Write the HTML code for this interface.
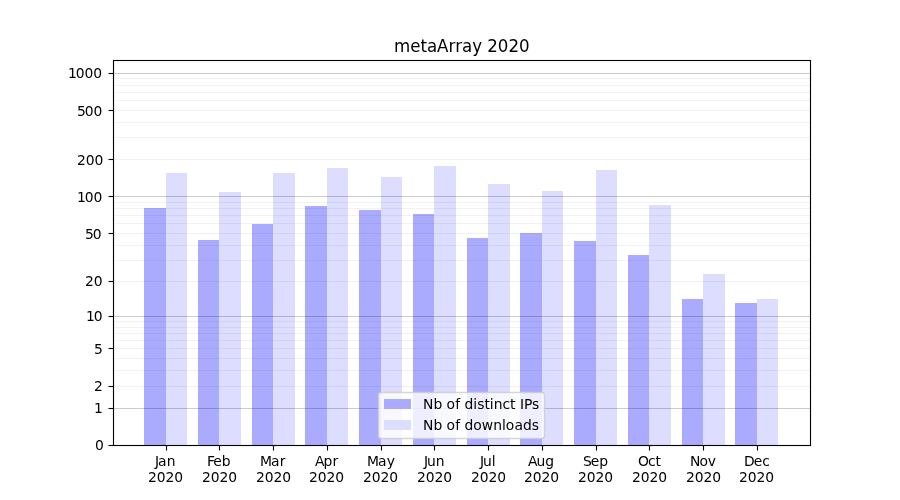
<!DOCTYPE html>
<html lang="en">
<head>
<meta charset="utf-8">
<title>metaArray 2020</title>
<style>
html,body{margin:0;padding:0;background:#fff;}
body{width:900px;height:500px;overflow:hidden;}
svg{display:block;}
text{font-family:"DejaVu Sans","Liberation Sans",sans-serif;fill:#000;white-space:pre;}
.t{font-size:13.8889px;}
.h{font-size:16.6667px;}
</style>
</head>
<body>
<svg width="900" height="500" viewBox="0 0 900 500">
<rect x="0" y="0" width="900" height="500" fill="#ffffff"/>
<g shape-rendering="crispEdges">
<rect x="144" y="208" width="22" height="237" fill="#aaaaff"/>
<rect x="166" y="173" width="21" height="272" fill="#ddddff"/>
<rect x="198" y="240" width="21" height="205" fill="#aaaaff"/>
<rect x="219" y="192" width="22" height="253" fill="#ddddff"/>
<rect x="252" y="224" width="21" height="221" fill="#aaaaff"/>
<rect x="273" y="173" width="22" height="272" fill="#ddddff"/>
<rect x="305" y="206" width="22" height="239" fill="#aaaaff"/>
<rect x="327" y="168" width="21" height="277" fill="#ddddff"/>
<rect x="359" y="210" width="22" height="235" fill="#aaaaff"/>
<rect x="381" y="177" width="21" height="268" fill="#ddddff"/>
<rect x="413" y="214" width="21" height="231" fill="#aaaaff"/>
<rect x="434" y="166" width="22" height="279" fill="#ddddff"/>
<rect x="467" y="238" width="21" height="207" fill="#aaaaff"/>
<rect x="488" y="184" width="22" height="261" fill="#ddddff"/>
<rect x="520" y="233" width="22" height="212" fill="#aaaaff"/>
<rect x="542" y="191" width="21" height="254" fill="#ddddff"/>
<rect x="574" y="241" width="22" height="204" fill="#aaaaff"/>
<rect x="596" y="170" width="21" height="275" fill="#ddddff"/>
<rect x="628" y="255" width="21" height="190" fill="#aaaaff"/>
<rect x="649" y="205" width="22" height="240" fill="#ddddff"/>
<rect x="682" y="299" width="21" height="146" fill="#aaaaff"/>
<rect x="703" y="274" width="22" height="171" fill="#ddddff"/>
<rect x="735" y="303" width="22" height="142" fill="#aaaaff"/>
<rect x="757" y="299" width="21" height="146" fill="#ddddff"/>
</g>
<clipPath id="ax"><rect x="112.5" y="60.0" width="697.5" height="385.0"/></clipPath>
<g clip-path="url(#ax)" stroke="#000" stroke-width="1.1111" fill="none">
<line x1="112" y1="408.5" x2="811" y2="408.5" stroke-opacity="0.2"/>
<line x1="112" y1="386.5" x2="811" y2="386.5" stroke-opacity="0.05"/>
<line x1="112" y1="370.5" x2="811" y2="370.5" stroke-opacity="0.05"/>
<line x1="112" y1="358.5" x2="811" y2="358.5" stroke-opacity="0.05"/>
<line x1="112" y1="348.5" x2="811" y2="348.5" stroke-opacity="0.05"/>
<line x1="112" y1="340.5" x2="811" y2="340.5" stroke-opacity="0.05"/>
<line x1="112" y1="333.5" x2="811" y2="333.5" stroke-opacity="0.05"/>
<line x1="112" y1="327.5" x2="811" y2="327.5" stroke-opacity="0.05"/>
<line x1="112" y1="321.5" x2="811" y2="321.5" stroke-opacity="0.05"/>
<line x1="112" y1="316.5" x2="811" y2="316.5" stroke-opacity="0.2"/>
<line x1="112" y1="281.5" x2="811" y2="281.5" stroke-opacity="0.05"/>
<line x1="112" y1="260.5" x2="811" y2="260.5" stroke-opacity="0.05"/>
<line x1="112" y1="245.5" x2="811" y2="245.5" stroke-opacity="0.05"/>
<line x1="112" y1="233.5" x2="811" y2="233.5" stroke-opacity="0.05"/>
<line x1="112" y1="223.5" x2="811" y2="223.5" stroke-opacity="0.05"/>
<line x1="112" y1="215.5" x2="811" y2="215.5" stroke-opacity="0.05"/>
<line x1="112" y1="208.5" x2="811" y2="208.5" stroke-opacity="0.05"/>
<line x1="112" y1="202.5" x2="811" y2="202.5" stroke-opacity="0.05"/>
<line x1="112" y1="196.5" x2="811" y2="196.5" stroke-opacity="0.2"/>
<line x1="112" y1="159.5" x2="811" y2="159.5" stroke-opacity="0.05"/>
<line x1="112" y1="137.5" x2="811" y2="137.5" stroke-opacity="0.05"/>
<line x1="112" y1="122.5" x2="811" y2="122.5" stroke-opacity="0.05"/>
<line x1="112" y1="110.5" x2="811" y2="110.5" stroke-opacity="0.05"/>
<line x1="112" y1="100.5" x2="811" y2="100.5" stroke-opacity="0.05"/>
<line x1="112" y1="92.5" x2="811" y2="92.5" stroke-opacity="0.05"/>
<line x1="112" y1="85.5" x2="811" y2="85.5" stroke-opacity="0.05"/>
<line x1="112" y1="78.5" x2="811" y2="78.5" stroke-opacity="0.05"/>
<line x1="112" y1="73.5" x2="811" y2="73.5" stroke-opacity="0.2"/>
</g>
<g stroke="#000" stroke-width="1.1111" fill="none">
<line x1="108.5" y1="445.5" x2="113.5" y2="445.5"/>
<line x1="108.5" y1="408.5" x2="113.5" y2="408.5"/>
<line x1="108.5" y1="386.5" x2="113.5" y2="386.5"/>
<line x1="108.5" y1="348.5" x2="113.5" y2="348.5"/>
<line x1="108.5" y1="316.5" x2="113.5" y2="316.5"/>
<line x1="108.5" y1="281.5" x2="113.5" y2="281.5"/>
<line x1="108.5" y1="233.5" x2="113.5" y2="233.5"/>
<line x1="108.5" y1="196.5" x2="113.5" y2="196.5"/>
<line x1="108.5" y1="159.5" x2="113.5" y2="159.5"/>
<line x1="108.5" y1="110.5" x2="113.5" y2="110.5"/>
<line x1="108.5" y1="73.5" x2="113.5" y2="73.5"/>
<line x1="166.5" y1="445.5" x2="166.5" y2="450.5"/>
<line x1="219.5" y1="445.5" x2="219.5" y2="450.5"/>
<line x1="273.5" y1="445.5" x2="273.5" y2="450.5"/>
<line x1="327.5" y1="445.5" x2="327.5" y2="450.5"/>
<line x1="381.5" y1="445.5" x2="381.5" y2="450.5"/>
<line x1="434.5" y1="445.5" x2="434.5" y2="450.5"/>
<line x1="488.5" y1="445.5" x2="488.5" y2="450.5"/>
<line x1="542.5" y1="445.5" x2="542.5" y2="450.5"/>
<line x1="596.5" y1="445.5" x2="596.5" y2="450.5"/>
<line x1="649.5" y1="445.5" x2="649.5" y2="450.5"/>
<line x1="703.5" y1="445.5" x2="703.5" y2="450.5"/>
<line x1="757.5" y1="445.5" x2="757.5" y2="450.5"/>
<rect x="113.5" y="60.5" width="697" height="385" stroke-linejoin="miter"/>
</g>
<text class="t" x="95.03" y="450">0</text>
<text class="t" x="93.91" y="413">1</text>
<text class="t" x="94.03" y="391">2</text>
<text class="t" x="94.03" y="354">5</text>
<text class="t" x="85.91 93.73" y="321">10</text>
<text class="t" x="85.03 93.86" y="286">20</text>
<text class="t" x="85.03 92.86" y="239">50</text>
<text class="t" x="76.91 84.73 93.56" y="202">100</text>
<text class="t" x="77.03 85.86 94.44" y="165">200</text>
<text class="t" x="77.03 84.86 93.44" y="116">500</text>
<text class="t" x="67.91 75.73 84.56 93.14" y="78">1000</text>
<text class="t" x="155.01 158.10 166.86" y="466">Jan</text>
<text class="t" x="147.95 156.78 165.60 174.18" y="482">2020</text>
<text class="t" x="207.12 213.35 221.64" y="466">Feb</text>
<text class="t" x="201.94 210.76 219.59 228.17" y="482">2020</text>
<text class="t" x="259.98 270.96 279.71" y="466">Mar</text>
<text class="t" x="255.92 264.75 273.58 282.16" y="482">2020</text>
<text class="t" x="315.10 323.59 332.40" y="466">Apr</text>
<text class="t" x="308.91 317.74 326.56 335.14" y="482">2020</text>
<text class="t" x="366.96 377.93 386.68" y="466">May</text>
<text class="t" x="362.90 371.72 380.55 389.13" y="482">2020</text>
<text class="t" x="423.88 426.97 435.77" y="466">Jun</text>
<text class="t" x="416.88 425.71 434.54 443.36" y="482">2020</text>
<text class="t" x="480.06 482.90 491.69" y="466">Jul</text>
<text class="t" x="471.12 479.70 488.52 497.35" y="482">2020</text>
<text class="t" x="528.04 536.53 545.33" y="466">Aug</text>
<text class="t" x="524.10 532.68 541.51 550.34" y="482">2020</text>
<text class="t" x="583.03 590.84 599.37" y="466">Sep</text>
<text class="t" x="578.09 586.67 595.50 604.32" y="482">2020</text>
<text class="t" x="638.08 648.00 655.38" y="466">Oct</text>
<text class="t" x="632.08 640.66 649.48 658.31" y="482">2020</text>
<text class="t" x="690.00 699.38 707.87" y="466">Nov</text>
<text class="t" x="686.06 694.64 703.47 712.30" y="482">2020</text>
<text class="t" x="744.11 753.80 762.33" y="466">Dec</text>
<text class="t" x="739.05 747.63 756.46 765.28" y="482">2020</text>
<text class="h" transform="translate(0,51.67) scale(1,1.04)" x="394.00 410.19 420.42 426.94 437.13 448.50 455.34 461.92 472.36 481.45 487.23 497.81 508.39 518.97" y="0">metaArray 2020</text>
<rect x="378.5" y="392.5" width="166" height="46" rx="2.78" ry="2.78" fill="#ffffff" fill-opacity="0.8" stroke="#cccccc" stroke-opacity="0.8" stroke-width="1.3889"/>
<g shape-rendering="crispEdges">
<rect x="384" y="399" width="27" height="10" fill="#aaaaff"/>
<rect x="384" y="420" width="27" height="10" fill="#ddddff"/>
</g>
<text class="t" x="423.07 433.45 441.76 446.42 455.16 459.54 464.45 473.26 477.36 484.59 489.78 493.64 502.43 510.06 515.00 519.91 524.00 532.12" y="409">Nb of distinct IPs</text>
<text class="t" x="423.07 433.45 441.76 446.42 455.16 459.54 464.45 473.26 481.75 493.35 501.89 505.74 514.48 522.99 531.79" y="430">Nb of downloads</text>
</svg>
</body>
</html>
